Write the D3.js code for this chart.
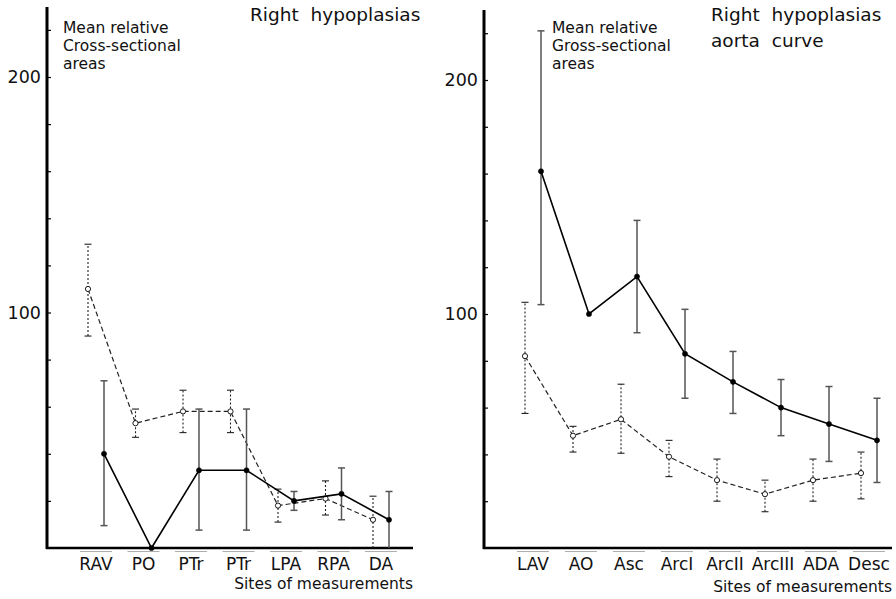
<!DOCTYPE html>
<html>
<head>
<meta charset="utf-8">
<script src="https://cdn.jsdelivr.net/npm/d3@7"></script>
<style>
  body { margin: 0; background: #fff; }
  svg { display: block; font-family: "DejaVu Sans", sans-serif; }
  .axis path, .axis line { stroke: #000; }
  .axis text { fill: #111; }
</style>
</head>
<body>
<svg width="896" height="599"></svg>
<script>
// left panel: pulmonary side
var leftCats = ["RAV", "PO", "PTr", "PTr", "LPA", "RPA", "DA"];
var leftSolid = [40, 0, 33, 33, 20, 23, 12];
var leftSolidLo = [9.5, null, 7.6, 7.6, 16, 12, 0];
var leftSolidHi = [71, null, 59, 59, 24, 34, 24];
var leftDashed = [110, 53, 58, 58, 18, 21, 12];
var leftDashedLo = [90, 47, 49, 49, 11, 14, 0];
var leftDashedHi = [129, 59, 67, 67, 25, 28.5, 22];

// right panel: aorta curve
var rightCats = ["LAV", "AO", "Asc", "ArcI", "ArcII", "ArcIII", "ADA", "Desc"];
var rightSolid = [161, 100, 116, 83, 71, 60, 53, 46];
var rightSolidLo = [104, null, 92, 64, 57.5, 48, 37, 28];
var rightSolidHi = [221, null, 140, 102, 84, 72, 69, 64];
var rightDashed = [82, 48, 55, 39, 29, 23, 29, 32];
var rightDashedLo = [57.5, 41, 40.5, 30.5, 20, 15.5, 20, 21];
var rightDashedHi = [105, 52, 70, 46, 38, 29, 38, 41];

var minorTicks = [20, 40, 60, 80, 100, 120, 140, 160, 180, 200, 220];
var labelTicks = [100, 200];

var svg = d3.select("svg");

function drawPanel(p) {
  var g = svg.append("g");

  var y = d3.scaleLinear().domain([0, 200]).range([548, p.y200]);
  var x = d3.scalePoint()
      .domain(d3.range(p.cats.length))
      .range([p.first, p.last]);

  // small inward ticks every 20
  g.append("g")
      .attr("class", "axis")
      .attr("transform", "translate(" + p.axisX + ",0)")
      .call(d3.axisRight(y).tickValues(minorTicks).tickSize(4).tickFormat(""))
      .call(function(s) { s.select(".domain").remove(); })
      .selectAll("line").attr("stroke-width", 1.2);

  // labelled ticks
  g.append("g")
      .attr("class", "axis")
      .attr("transform", "translate(" + p.axisX + ",0)")
      .call(d3.axisLeft(y).tickValues(labelTicks).tickSize(0).tickPadding(6).tickFormat(d3.format("d")))
      .call(function(s) { s.select(".domain").remove(); })
      .selectAll("text")
      .attr("font-size", 17.5)
      .attr("font-family", "DejaVu Sans, sans-serif");

  // heavy axis lines
  g.append("line")
      .attr("x1", p.axisX).attr("x2", p.axisX)
      .attr("y1", p.axisTop).attr("y2", y(0) + 1)
      .attr("stroke", "#000").attr("stroke-width", 3);
  g.append("line")
      .attr("x1", p.axisX - 1).attr("x2", p.axisEnd)
      .attr("y1", y(0)).attr("y2", y(0))
      .attr("stroke", "#000").attr("stroke-width", 2.5);

  // short rules under the baseline at each site
  g.selectAll(".rule")
    .data(p.cats)
    .enter().append("line")
      .attr("x1", function(d, i) { return x(i) - 16; })
      .attr("x2", function(d, i) { return x(i) + 16; })
      .attr("y1", y(0) + 3.5).attr("y2", y(0) + 3.5)
      .attr("stroke", "#999").attr("stroke-width", 0.8);

  g.selectAll(".cat")
    .data(p.cats)
    .enter().append("text")
      .attr("x", function(d, i) { return x(i); })
      .attr("y", 570)
      .attr("text-anchor", "middle")
      .attr("font-size", 17)
      .attr("fill", "#111")
      .text(function(d) { return d; });

  g.append("text")
      .attr("x", p.axisEnd).attr("y", p.xTitleY)
      .attr("text-anchor", "end")
      .attr("font-size", 15.5)
      .attr("fill", "#111")
      .text("Sites of measurements");

  function series(vals, lo, hi, dx, dashed) {
    var pts = vals.map(function(v, i) {
      return { x: x(i) + dx, v: v, lo: lo[i], hi: hi[i] };
    });
    var bars = pts.filter(function(d) { return d.lo != null; });

    var eb = g.append("g")
        .attr("stroke", dashed ? "#222" : "#555")
        .attr("stroke-width", dashed ? 1.1 : 1.5)
        .attr("fill", "none");
    eb.selectAll(".bar")
      .data(bars)
      .enter().append("line")
        .attr("x1", function(d) { return d.x; })
        .attr("x2", function(d) { return d.x; })
        .attr("y1", function(d) { return y(d.lo); })
        .attr("y2", function(d) { return y(d.hi); })
        .attr("stroke-dasharray", dashed ? "2,2" : null);
    eb.selectAll(".capHi")
      .data(bars)
      .enter().append("line")
        .attr("x1", function(d) { return d.x - 3.5; })
        .attr("x2", function(d) { return d.x + 3.5; })
        .attr("y1", function(d) { return y(d.hi); })
        .attr("y2", function(d) { return y(d.hi); });
    eb.selectAll(".capLo")
      .data(bars.filter(function(d) { return d.lo > 0; }))
      .enter().append("line")
        .attr("x1", function(d) { return d.x - 3.5; })
        .attr("x2", function(d) { return d.x + 3.5; })
        .attr("y1", function(d) { return y(d.lo); })
        .attr("y2", function(d) { return y(d.lo); });

    var line = d3.line()
        .x(function(d) { return d.x; })
        .y(function(d) { return y(d.v); });

    g.append("path")
        .datum(pts)
        .attr("d", line)
        .attr("fill", "none")
        .attr("stroke", dashed ? "#222" : "#000")
        .attr("stroke-width", dashed ? 1.2 : 1.6)
        .attr("stroke-dasharray", dashed ? "5,3" : null);

    g.selectAll(".pt")
      .data(pts)
      .enter().append("circle")
        .attr("cx", function(d) { return d.x; })
        .attr("cy", function(d) { return y(d.v); })
        .attr("r", 2.6)
        .attr("fill", dashed ? "#fff" : "#000")
        .attr("stroke", "#000")
        .attr("stroke-width", dashed ? 0.9 : 0.5);
  }

  series(p.dashed, p.dashedLo, p.dashedHi, -8, true);
  series(p.solid, p.solidLo, p.solidHi, 8, false);

  g.selectAll(".title")
    .data(p.title)
    .enter().append("text")
      .attr("x", p.titleX)
      .attr("y", function(d, i) { return 21 + i * 26; })
      .attr("font-size", 18.5)
      .attr("word-spacing", 6)
      .attr("fill", "#111")
      .text(function(d) { return d; });

  g.selectAll(".ylab")
    .data(p.yLabel)
    .enter().append("text")
      .attr("x", p.yLabelX)
      .attr("y", function(d, i) { return 33 + i * 18; })
      .attr("font-size", 15.5)
      .attr("fill", "#111")
      .text(function(d) { return d; });
}

drawPanel({
  cats: leftCats,
  solid: leftSolid, solidLo: leftSolidLo, solidHi: leftSolidHi,
  dashed: leftDashed, dashedLo: leftDashedLo, dashedHi: leftDashedHi,
  axisX: 47, axisTop: 7, axisEnd: 413, y200: 77,
  first: 96, last: 381,
  xTitleY: 589,
  title: ["Right hypoplasias"], titleX: 250,
  yLabel: ["Mean relative", "Cross-sectional", "areas"], yLabelX: 63
});

drawPanel({
  cats: rightCats,
  solid: rightSolid, solidLo: rightSolidLo, solidHi: rightSolidHi,
  dashed: rightDashed, dashedLo: rightDashedLo, dashedHi: rightDashedHi,
  axisX: 484, axisTop: 10, axisEnd: 892, y200: 80,
  first: 533, last: 869,
  xTitleY: 592,
  title: ["Right hypoplasias", "aorta curve"], titleX: 711,
  yLabel: ["Mean relative", "Gross-sectional", "areas"], yLabelX: 552
});
</script>
</body>
</html>
